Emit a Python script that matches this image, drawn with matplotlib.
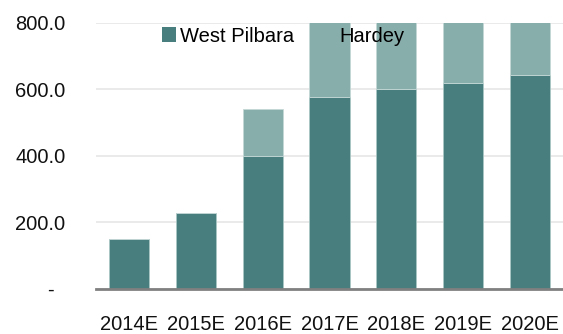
import matplotlib.pyplot as plt

plt.rcParams['font.family'] = ['Liberation Sans', 'DejaVu Sans']

# production estimates by project
years = ["2014E", "2015E", "2016E", "2017E", "2018E", "2019E", "2020E"]
west_pilbara = [149, 227, 400, 577, 600, 619, 643]
hardey = [0, 0, 140, 280, 290, 300, 310]

yticks = [0, 200, 400, 600, 800]
ytick_labels = ["-  ", "200.0", "400.0", "600.0", "800.0"]

dark = "#487e7e"
light = "#88aeab"

fig = plt.figure(figsize=(5.63, 3.34), dpi=100)
ax = fig.add_axes([96 / 563, 1 - 288.5 / 334, 1 - 96 / 563, 265.5 / 334])

x = range(len(years))
ax.bar(x, west_pilbara, width=0.6, color=dark, edgecolor="#a9c6c4",
       linewidth=0.6, label="West Pilbara", zorder=2)
ax.bar(x, hardey, width=0.6, bottom=west_pilbara, color=light,
       edgecolor="#c4d8d6", linewidth=0.6, label="Hardey", zorder=2)

ax.set_xlim(-0.5, 6.5)
ax.set_ylim(0, 800)
ax.set_xticks(list(x))
ax.set_xticklabels(years, fontsize=14.5, color="#111111")
ax.set_yticks(yticks)
ax.set_yticklabels(ytick_labels, fontsize=14.5, color="#111111")
ax.tick_params(axis="x", length=0, pad=19)
ax.tick_params(axis="y", length=0, pad=22)

ax.grid(axis="y", color="#e6e6e6", linewidth=1.2, zorder=0)
ax.set_axisbelow(True)
for s in ["top", "right", "left"]:
    ax.spines[s].set_visible(False)
ax.spines["bottom"].set_color("#808080")
ax.spines["bottom"].set_linewidth(2)
ax.spines["bottom"].set_zorder(3)

leg = fig.legend(loc="center left", bbox_to_anchor=(162 / 563, 1 - 36 / 334),
                 ncol=2, frameon=False, fontsize=14.5, borderpad=0,
                 borderaxespad=0, handlelength=0.7, handleheight=0.7,
                 handletextpad=0.2, columnspacing=1.35)
for h in leg.legend_handles:
    h.set_edgecolor("none")
leg.set_zorder(5)

fig.savefig("out.png", dpi=100)
